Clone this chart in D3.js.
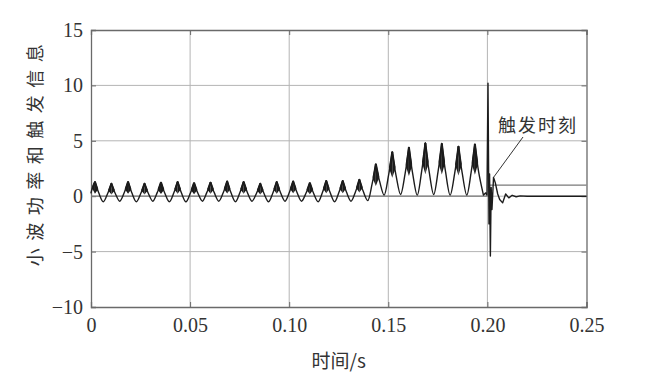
<!DOCTYPE html>
<html><head><meta charset="utf-8">
<script src="https://cdn.jsdelivr.net/npm/d3@7/dist/d3.min.js"></script>
<style>body{margin:0;background:#fff}svg{display:block}</style>
</head><body><svg id="c" width="650" height="382"></svg>
<script>
// ---- data ----
const xTicks = [0, 0.05, 0.10, 0.15, 0.20, 0.25];
const xTickLabels = ["0", "0.05", "0.10", "0.15", "0.20", "0.25"];
const yTicks = [-10, -5, 0, 5, 10, 15];
const yTickLabels = ["\u221210", "\u22125", "0", "5", "10", "15"];

// steady oscillation before the fault (t <= 0.198 s)
const powerTime = [
  0.0000, 0.0006,
  0.0020, 0.0039, 0.0062, 0.0084,
  0.0103, 0.0122, 0.0145, 0.0168,
  0.0187, 0.0206, 0.0229, 0.0251,
  0.0270, 0.0289, 0.0312, 0.0334,
  0.0353, 0.0372, 0.0395, 0.0418,
  0.0437, 0.0456, 0.0479, 0.0501,
  0.0520, 0.0539, 0.0562, 0.0584,
  0.0603, 0.0622, 0.0645, 0.0668,
  0.0687, 0.0706, 0.0729, 0.0751,
  0.0770, 0.0789, 0.0812, 0.0835,
  0.0854, 0.0873, 0.0896, 0.0918,
  0.0937, 0.0956, 0.0979, 0.1001,
  0.1020, 0.1039, 0.1062, 0.1085,
  0.1104, 0.1123, 0.1146, 0.1168,
  0.1187, 0.1206, 0.1229, 0.1251,
  0.1270, 0.1289, 0.1312, 0.1335,
  0.1354, 0.1373, 0.1396, 0.1418,
  0.1437, 0.1456, 0.1479, 0.1501,
  0.1520, 0.1539, 0.1562, 0.1585,
  0.1604, 0.1623, 0.1646, 0.1668,
  0.1687, 0.1706, 0.1729, 0.1751,
  0.1770, 0.1789, 0.1812, 0.1835,
  0.1854, 0.1873, 0.1896, 0.1918,
  0.1937, 0.1956, 0.1980
];
const powerValue = [
  0.30, 0.70,
  1.30, 0.31, -0.50, 0.24,
  1.15, 0.27, -0.45, 0.34,
  1.30, 0.31, -0.50, 0.24,
  1.15, 0.27, -0.45, 0.32,
  1.25, 0.29, -0.50, 0.31,
  1.30, 0.31, -0.50, 0.27,
  1.20, 0.29, -0.45, 0.32,
  1.25, 0.32, -0.45, 0.36,
  1.35, 0.33, -0.50, 0.31,
  1.30, 0.34, -0.45, 0.27,
  1.15, 0.24, -0.50, 0.31,
  1.30, 0.34, -0.45, 0.36,
  1.35, 0.36, -0.45, 0.29,
  1.20, 0.27, -0.50, 0.36,
  1.40, 0.36, -0.50, 0.36,
  1.40, 0.38, -0.45, 0.43,
  1.50, 0.46, -0.40, 1.09,
  2.90, 1.36, 0.10, 1.86,
  4.00, 1.88, 0.15, 2.06,
  4.40, 2.04, 0.10, 2.22,
  4.80, 2.24, 0.15, 2.22,
  4.75, 2.19, 0.10, 2.08,
  4.50, 2.08, 0.10, 2.17,
  4.70, 2.17, 0.10
];
// transient after the fault
const transientTime = [
  0.1980, 0.1992, 0.1998, 0.2003, 0.2008, 0.2011, 0.2015, 0.2019, 0.2023,
  0.2031, 0.2040, 0.2052, 0.2062, 0.2077, 0.2092, 0.2108, 0.2125,
  0.2145, 0.2165, 0.2200, 0.2500
];
const transientValue = [
  0.10, 0.30, 0.10, 10.20, -2.50, 2.00, -5.40, 0.80, -1.20,
  1.70, 1.20, 0.20, -0.30, -0.60, 0.20, -0.15, 0.08,
  -0.05, 0.03, 0.00, 0.00
];
const triggerTime = [0, 0.2010, 0.2010, 0.25];
const triggerValue = [0, 0, 1, 1];

const xLabel = "时间/s";
const yLabel = "小波功率和触发信息";
const noteText = "触发时刻";
const notePoint = [0.2031, 1.7];

// ---- drawing ----
const svg = d3.select("#c");
const L = 91, R = 586.5, T = 30, B = 307;
const x = d3.scaleLinear().domain([0, 0.25]).range([L, R]);
const y = d3.scaleLinear().domain([-10, 15]).range([B, T]);

// grid
const grid = svg.append("g").attr("stroke", "#b4b4b4").attr("stroke-width", 1);
xTicks.slice(1, -1).forEach(t => grid.append("line")
  .attr("x1", x(t)).attr("x2", x(t)).attr("y1", T).attr("y2", B));
yTicks.slice(1, -1).forEach(v => grid.append("line")
  .attr("x1", L).attr("x2", R).attr("y1", y(v)).attr("y2", y(v)));

// axes (inward ticks, box)
const axCol = "#6a6a6a";
const axB = svg.append("g").attr("transform", `translate(0,${B})`)
  .call(d3.axisBottom(x).tickValues(xTicks).tickSize(-5).tickFormat((d, i) => xTickLabels[i]).tickPadding(10));
const axT = svg.append("g").attr("transform", `translate(0,${T})`)
  .call(d3.axisTop(x).tickValues(xTicks).tickSize(-5).tickFormat(""));
const axL = svg.append("g").attr("transform", `translate(${L},0)`)
  .call(d3.axisLeft(y).tickValues(yTicks).tickSize(-5).tickFormat((d, i) => yTickLabels[i]).tickPadding(8));
const axRt = svg.append("g").attr("transform", `translate(${R},0)`)
  .call(d3.axisRight(y).tickValues(yTicks).tickSize(-5).tickFormat(""));
[axB, axT, axL, axRt].forEach(a => {
  a.select(".domain").attr("stroke", axCol).attr("stroke-width", 1.3);
  a.selectAll(".tick line").attr("stroke", axCol);
  a.selectAll("text").attr("font-family", "'Liberation Serif', serif")
    .attr("font-size", 20).attr("fill", "#333");
});
axB.selectAll("text").attr("dy", "0.75em");

// trigger signal
const trig = d3.zip(triggerTime, triggerValue);
svg.append("path").datum(trig)
  .attr("d", d3.line().x(d => x(d[0])).y(d => y(d[1])))
  .attr("fill", "none").attr("stroke", "#7a7a7a").attr("stroke-width", 1.3);

// wavelet power: split at every peak so peaks stay sharp, troughs smooth
const pw = d3.zip(powerTime, powerValue);
const tr = d3.zip(transientTime, transientValue);
const ink = "#1c1c1c";
const peakIdx = [];
for (let i = 1; i < pw.length - 1; i++)
  if (pw[i][1] > pw[i - 1][1] && pw[i][1] > pw[i + 1][1]) peakIdx.push(i);
const cuts = [0, ...peakIdx, pw.length - 1];
const segs = [];
for (let j = 0; j < cuts.length - 1; j++) segs.push(pw.slice(cuts[j], cuts[j + 1] + 1));

const cr = d3.curveCatmullRom.alpha(0.5);
const smooth = d3.line().x(d => x(d[0])).y(d => y(d[1])).curve(cr);
const area = d3.area().x(d => x(d[0])).y0(B).y1(d => y(d[1])).curve(cr);

// tapering clip regions around each peak top (dense ripple looks solid)
const clip = svg.append("defs").append("clipPath").attr("id", "peaks");
peakIdx.forEach(i => {
  const v = pw[i][1];
  const lo = Math.min(pw[Math.max(0, i - 2)][1], pw[Math.min(pw.length - 1, i + 2)][1]);
  const xl = x(pw[i - 1][0]), xr = x(pw[i + 1][0]), xp = x(pw[i][0]);
  const yt = y(v) - 3, ym = y(lo + 0.66 * (v - lo)), ya = y(lo + 0.40 * (v - lo));
  clip.append("path")
    .attr("d", `M${xl},${yt}L${xr},${yt}L${xr},${ym}L${xp},${ya}L${xl},${ym}Z`);
});
const blobG = svg.append("g").attr("clip-path", "url(#peaks)");
blobG.selectAll("path.a").data(segs).join("path").attr("class", "a")
  .attr("d", area).attr("fill", ink);
blobG.selectAll("path.s").data(segs).join("path").attr("class", "s")
  .attr("d", smooth).attr("fill", "none").attr("stroke", ink).attr("stroke-width", 2.0);

svg.append("g").selectAll("path").data(segs).join("path")
  .attr("d", smooth).attr("fill", "none").attr("stroke", ink)
  .attr("stroke-width", 1.4).attr("stroke-linecap", "round");
svg.append("path").datum(tr).attr("d", d3.line().x(d => x(d[0])).y(d => y(d[1])))
  .attr("fill", "none").attr("stroke", ink).attr("stroke-width", 1.4)
  .attr("stroke-linejoin", "round");

// annotation
svg.append("line")
  .attr("x1", 523).attr("y1", 137)
  .attr("x2", x(notePoint[0])).attr("y2", y(notePoint[1]))
  .attr("stroke", "#333").attr("stroke-width", 1);
svg.append("text").attr("x", 498).attr("y", 132)
  .attr("font-family", "'Noto Sans CJK SC', sans-serif").attr("font-size", 18)
  .attr("letter-spacing", 2).attr("fill", "#333").text(noteText);

// axis labels
svg.append("text").attr("x", (L + R) / 2).attr("y", 368).attr("text-anchor", "middle")
  .attr("font-family", "'Noto Sans CJK SC', sans-serif").attr("font-size", 19)
  .attr("fill", "#333").text(xLabel);
svg.append("text").attr("transform", `translate(42,${(40 + 263) / 2}) rotate(-90)`)
  .attr("text-anchor", "middle")
  .attr("font-family", "'Noto Sans CJK SC', sans-serif").attr("font-size", 18)
  .attr("letter-spacing", 7.5).attr("fill", "#333").text(yLabel);
</script></body></html>
